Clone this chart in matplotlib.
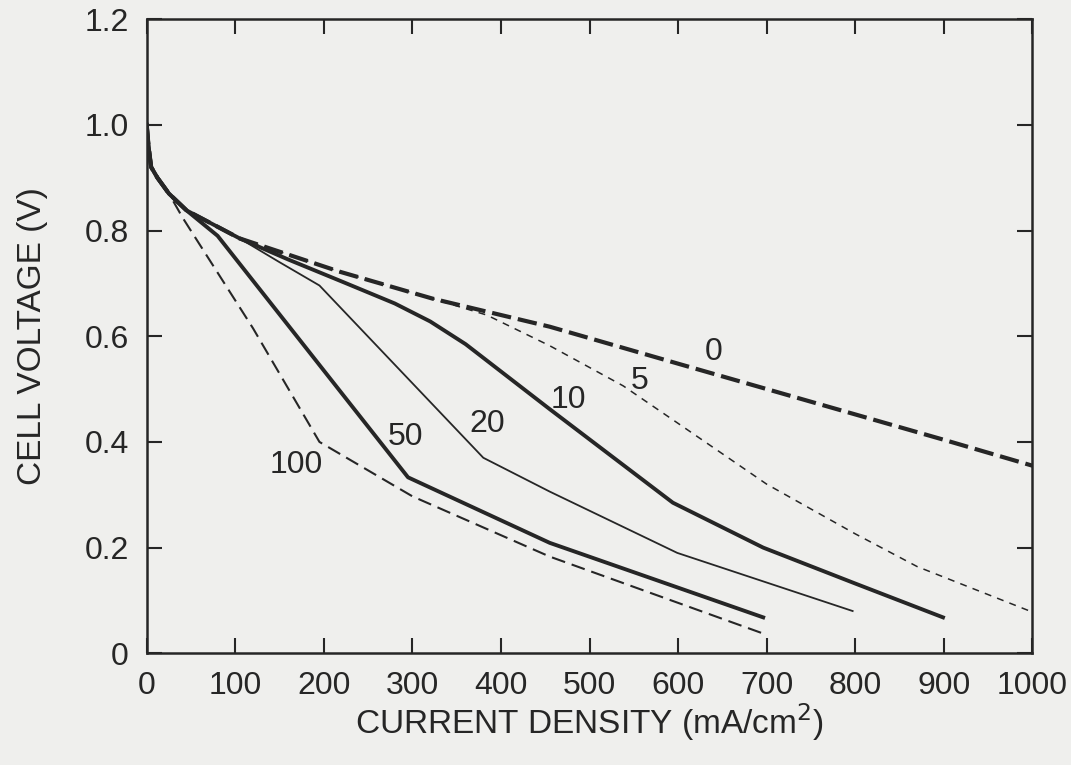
import matplotlib
matplotlib.use('Agg')
import matplotlib.pyplot as plt

plt.rcParams['font.family'] = ['Liberation Sans', 'DejaVu Sans']
plt.rcParams['lines.scale_dashes'] = False

# common start of every curve (current density mA/cm2, voltage V)
x_start = [0, 2, 5, 12, 25, 45]
v_start = [1.0, 0.96, 0.92, 0.90, 0.87, 0.838]

# curves labelled by ppm CO
x_0 = x_start + [105, 218, 323, 455, 600, 700, 800, 900, 1000]
v_0 = v_start + [0.785, 0.722, 0.671, 0.618, 0.548, 0.50, 0.452, 0.404, 0.355]

x_5 = x_start + [105, 218, 323, 384, 455, 538, 600, 700, 800, 870, 1000]
v_5 = v_start + [0.785, 0.722, 0.671, 0.64, 0.582, 0.506, 0.435, 0.32, 0.226, 0.164, 0.078]

x_10 = x_start + [105, 160, 221, 280, 320, 360, 455, 594, 696, 800, 899]
v_10 = v_start + [0.785, 0.745, 0.703, 0.662, 0.628, 0.585, 0.462, 0.285, 0.20, 0.132, 0.068]

x_20 = x_start + [105, 150, 195, 380, 455, 599, 797]
v_20 = v_start + [0.785, 0.74, 0.696, 0.37, 0.306, 0.19, 0.08]

x_50 = x_start + [80, 160, 295, 455, 696]
v_50 = v_start + [0.79, 0.62, 0.333, 0.209, 0.068]

x_100 = x_start[:5] + [41, 120, 195, 300, 455, 695]
v_100 = v_start[:5] + [0.823, 0.615, 0.40, 0.297, 0.183, 0.038]

labels = ['0', '5', '10', '20', '50', '100']
label_x = [640, 557, 476, 384, 292, 169]
label_v = [0.57, 0.515, 0.48, 0.433, 0.41, 0.357]

ink = '#262626'
paper = '#efefed'

fig = plt.figure(figsize=(10.71, 7.65), dpi=100, facecolor=paper)
ax = fig.add_axes([0.137, 0.146, 0.827, 0.829], facecolor=paper)

ax.plot(x_0, v_0, color=ink, lw=3.0, linestyle=(0, (14, 5)))
ax.plot(x_5, v_5, color=ink, lw=1.1, linestyle=(0, (5, 4.5)))
ax.plot(x_10, v_10, color=ink, lw=2.8)
ax.plot(x_20, v_20, color=ink, lw=1.3)
ax.plot(x_50, v_50, color=ink, lw=2.8)
ax.plot(x_100, v_100, color=ink, lw=1.5, linestyle=(0, (10, 5)))

for t, lx, lv in zip(labels, label_x, label_v):
    ax.text(lx, lv, t, fontsize=23, color=ink, ha='center', va='center')

ax.set_xlim(0, 1000)
ax.set_ylim(0, 1.2)
ax.set_xticks(range(0, 1001, 100))
ax.set_yticks([0, 0.2, 0.4, 0.6, 0.8, 1.0, 1.2])
ax.set_yticklabels(['0', '0.2', '0.4', '0.6', '0.8', '1.0', '1.2'])
ax.tick_params(direction='in', length=11, width=1.5, top=True, right=True,
               labelsize=23, pad=13, colors=ink)
for s in ax.spines.values():
    s.set_linewidth(1.8)
    s.set_color(ink)

ax.set_xlabel('CURRENT DENSITY (mA/cm$^2$)', fontsize=24, color=ink, labelpad=0)
ax.set_ylabel('CELL VOLTAGE (V)', fontsize=24, color=ink, labelpad=26)

fig.savefig('out.png', dpi=100, facecolor=paper)
